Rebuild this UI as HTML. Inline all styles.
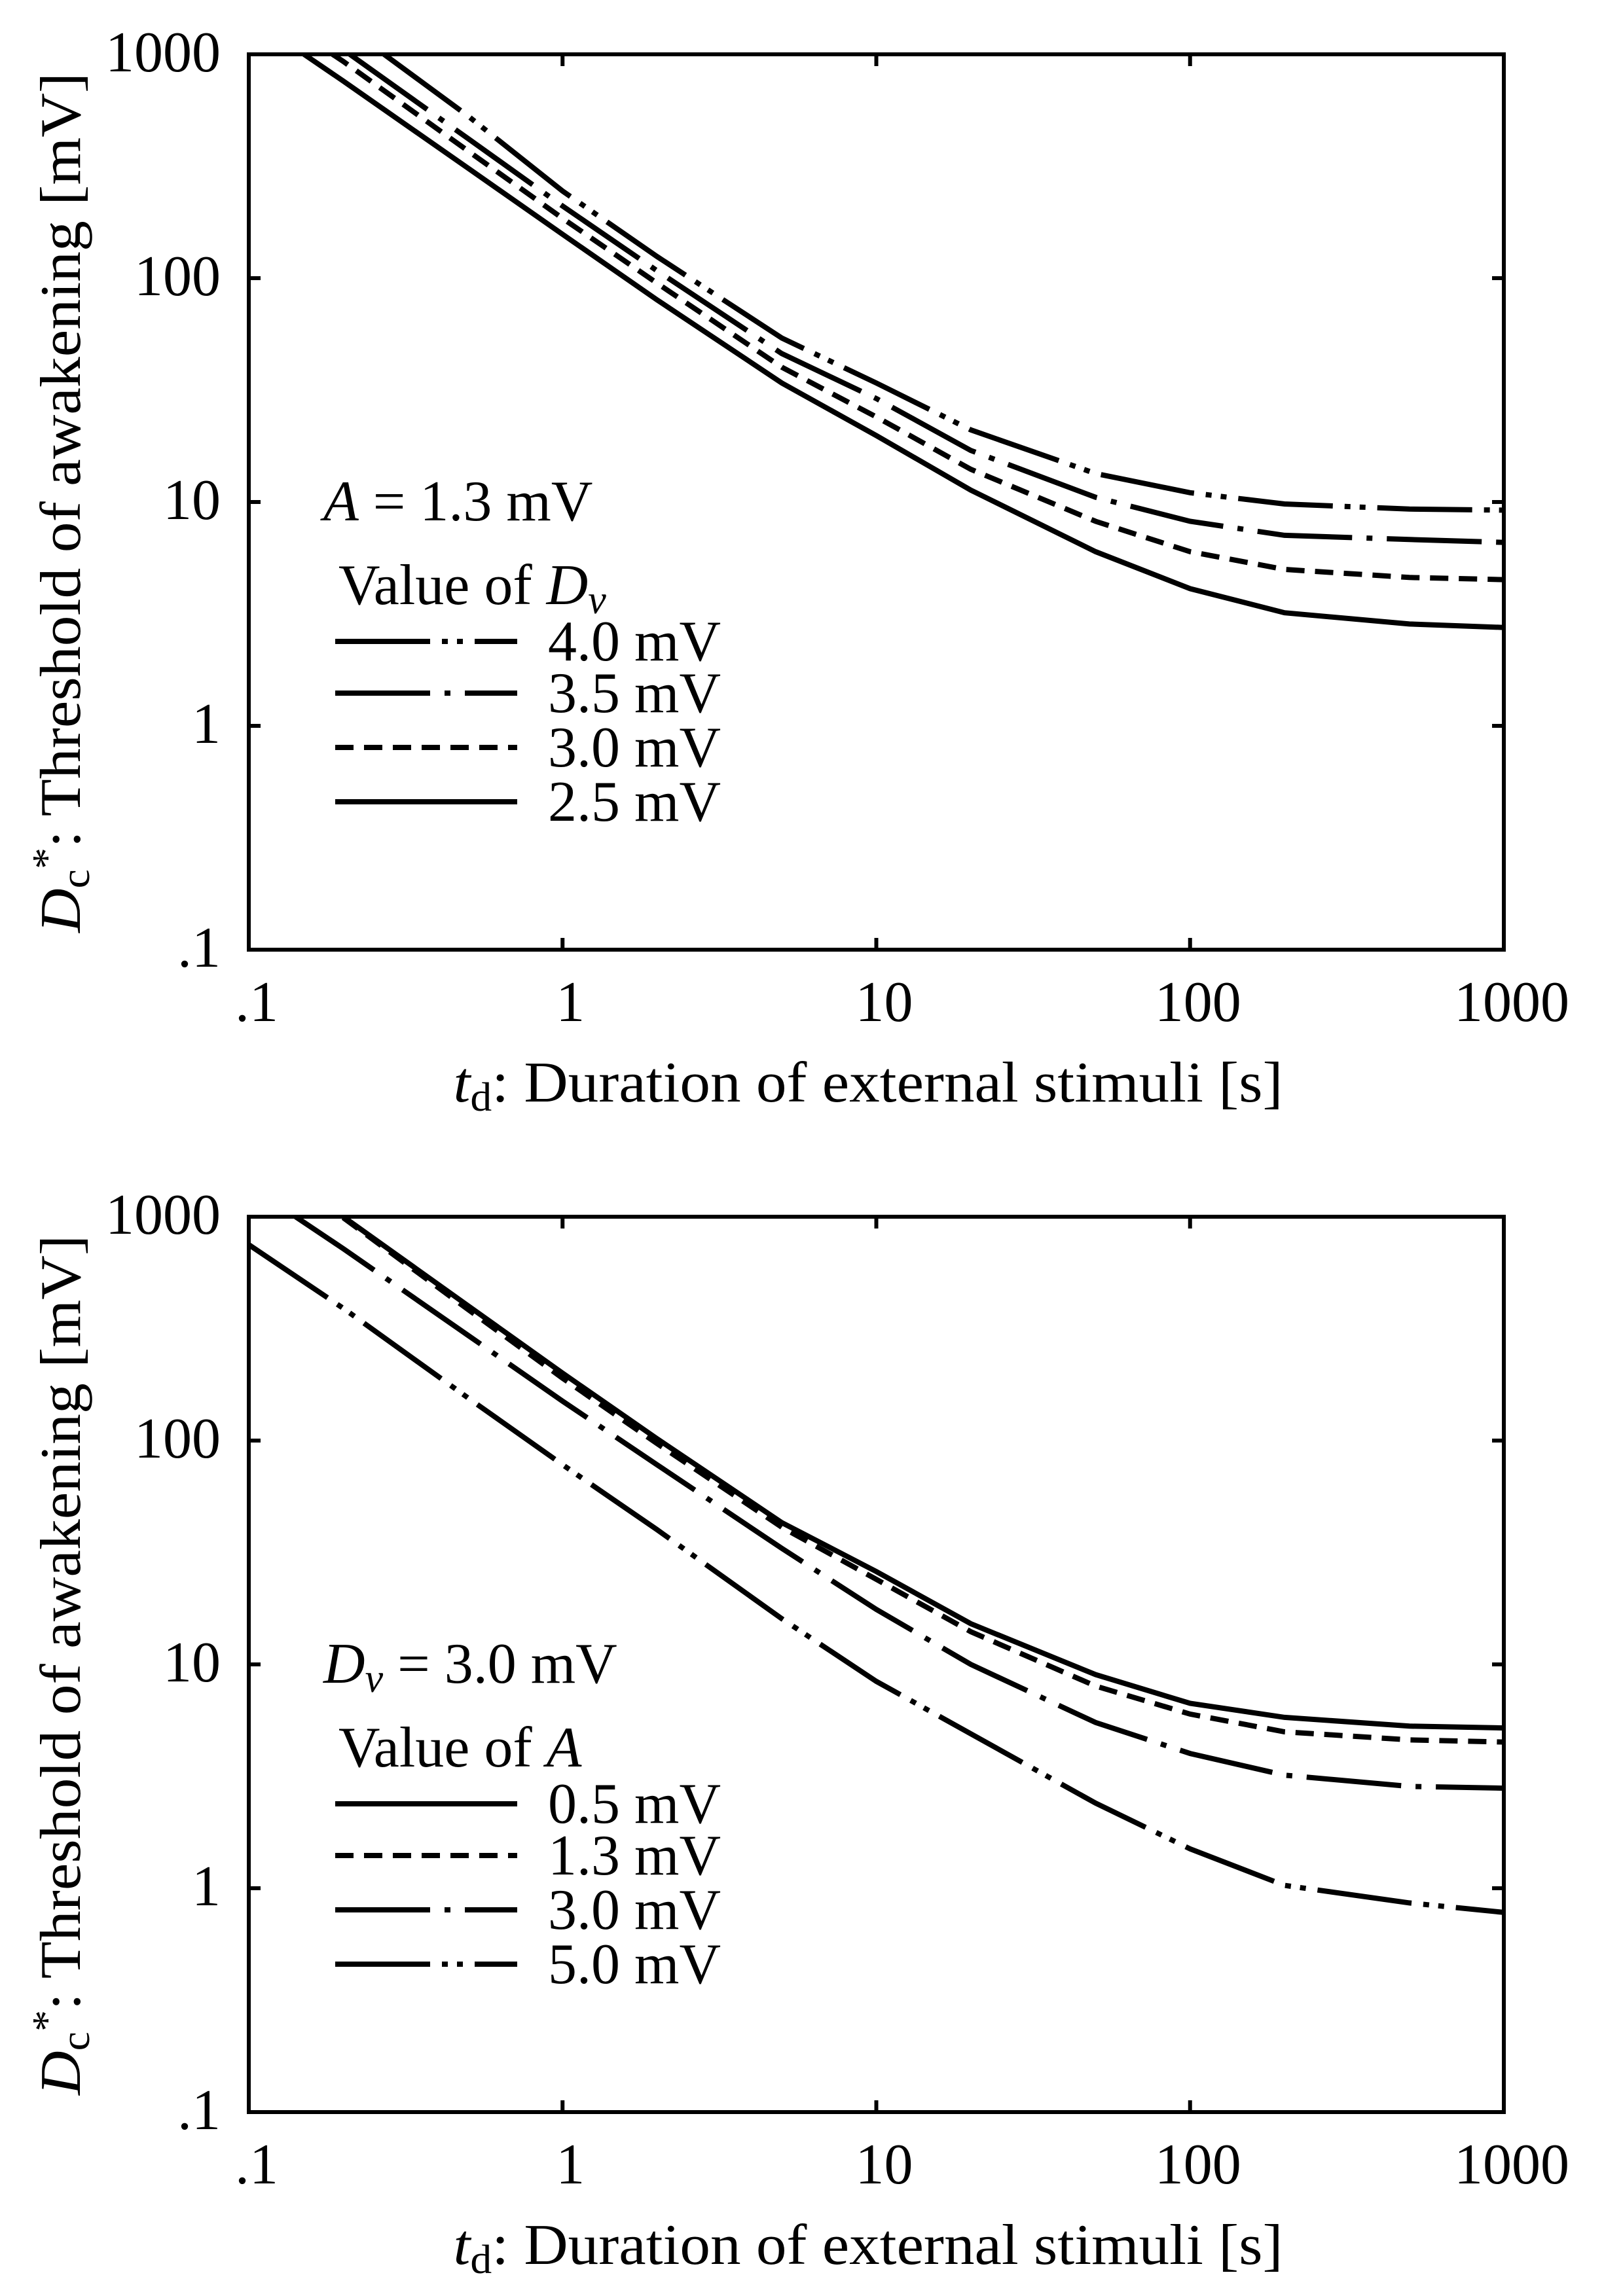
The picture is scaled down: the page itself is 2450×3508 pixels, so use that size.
<!DOCTYPE html>
<html><head><meta charset="utf-8"><style>
html,body{margin:0;padding:0;background:#fff;}
svg{display:block;}
text{font-family:"Liberation Serif",serif;fill:#000;}
</style></head><body>
<svg id="fig" width="2450" height="3508" viewBox="0 0 2450 3508" xmlns="http://www.w3.org/2000/svg">
<rect x="0" y="0" width="2450" height="3508" fill="#fff"/>
</svg>
<script>
// ---- data ----
const xTickLabels = [".1","1","10","100","1000"];
const yTickLabels = [".1","1","10","100","1000"];
// top panel: A = 1.3 mV, varying Dv
const topT40 = [0.27,0.5,1,2,5,10,20,50,100,200,500,1000];
const topV40 = [1000,530,245,125,54,34,21,13.4,11,9.8,9.3,9.2];
const topT35 = [0.21,0.5,1,2,5,10,20,50,100,200,500,1000];
const topV35 = [1000,420,210,108,46,29,17,10.5,8.2,7.1,6.8,6.6];
const topT30 = [0.185,0.2,0.5,1,2,5,10,20,50,100,200,500,1000];
const topV30 = [1000,930,370,185,95,40,24,14,8.2,6.0,5.0,4.6,4.5];
const topT25 = [0.15,0.2,0.5,1,2,5,10,20,50,100,200,500,1000];
const topV25 = [1000,760,310,157,80,34,19.8,11.3,6.0,4.1,3.2,2.85,2.75];
// bottom panel: Dv = 3.0 mV, varying A
const botT05 = [0.2,0.5,1,2,5,10,20,50,100,200,500,1000];
const botV05 = [1000,400,200,102,43,26,15.2,9.0,6.7,5.8,5.3,5.2];
const botT13 = [0.2,0.5,1,2,5,10,20,50,100,200,500,1000];
const botV13 = [990,385,190,97,41,24,14,8.0,6.0,5.0,4.6,4.5];
const botT30 = [0.141,0.2,0.5,1,2,5,10,20,50,100,200,500,1000];
const botV30 = [1000,720,295,150,78,33,17.6,10,5.5,4.0,3.2,2.85,2.8];
const botT50 = [0.1,0.2,0.5,1,2,5,10,20,50,100,200,500,1000];
const botV50 = [750,390,155,78,40,16,8.4,4.9,2.4,1.5,1.03,0.86,0.78];

const NS="http://www.w3.org/2000/svg";
const svg=document.getElementById('fig');
const L=380,R=2297,PH=1368;
function mk(tag,attrs,parent){const e=document.createElementNS(NS,tag);for(const k in attrs)e.setAttribute(k,attrs[k]);(parent||svg).appendChild(e);return e;}
function xs(t){return L+(Math.log10(t)+1)/4*(R-L);}
function ysF(top){return v=>top+(3-Math.log10(v))/4*PH;}

const styles={
 solid:"",
 dash:"28 16",
 dashdot:"145 22 9 22",
 dashdotdot:"145 18 9 14 9 18"
};

function panel(top,idx,series,ann1,legTitle,legItems){
 const ys=ysF(top);
 const g=mk('g',{});
 
 
 const clipId='clip'+idx;
 const cp=mk('clipPath',{id:clipId},g);
 mk('rect',{x:L,y:top,width:R-L,height:PH},cp);
 series.forEach(s=>{
   const pts=s.t.map((t,i)=>xs(t).toFixed(1)+','+ys(s.v[i]).toFixed(1)).join(' ');
   const p=mk('polyline',{points:pts,fill:'none',stroke:'#000','stroke-width':8,'stroke-dasharray':styles[s.style]||'none','clip-path':'url(#'+clipId+')','stroke-linejoin':'miter'},g);
   
   
 });
 const fr=mk('rect',{x:L,y:top,width:R-L,height:PH,fill:'none',stroke:'#000','stroke-width':6},g);
 
 
 for(let k=0;k<5;k++){
   const x=L+k*(R-L)/4, y=top+k*PH/4;
   mk('line',{x1:x,y1:top+PH,x2:x,y2:top+PH-18,stroke:'#000','stroke-width':6},g);
   mk('line',{x1:x,y1:top,x2:x,y2:top+18,stroke:'#000','stroke-width':6},g);
   mk('line',{x1:L,y1:y,x2:L+18,y2:y,stroke:'#000','stroke-width':6},g);
   mk('line',{x1:R,y1:y,x2:R-18,y2:y,stroke:'#000','stroke-width':6},g);
   const xl=mk('text',{x:x+12,y:top+1477,'font-size':88,'text-anchor':'middle'},g);
   xl.textContent=xTickLabels[k];
   
   
   const yl=mk('text',{x:337,y:top+PH-k*PH/4+26,'font-size':88,'text-anchor':'end'},g);
   yl.textContent=yTickLabels[k];
   
   
 }
 const xt=mk('text',{x:1326,y:top+1600,'font-size':88,'text-anchor':'middle',textLength:1267,lengthAdjust:'spacingAndGlyphs'},g);
 xt.innerHTML='<tspan font-style="italic">t</tspan><tspan font-size="62" dy="14">d</tspan><tspan dy="-14">: Duration of external stimuli [s]</tspan>';
 
 
 const yt=mk('text',{x:0,y:0,'font-size':88,'text-anchor':'middle',textLength:1314,lengthAdjust:'spacingAndGlyphs',transform:'translate(122,'+(top+685)+') rotate(-90)'},g);
 yt.innerHTML='<tspan font-style="italic">D</tspan><tspan font-size="62" dy="14">c</tspan><tspan font-size="62" dy="-44">*</tspan><tspan dy="30">: Threshold of awakening [mV]</tspan>';
 
 
 const a=mk('text',{x:494,y:top+712,'font-size':88},g);
 a.innerHTML=ann1;
 
 
 const lt=mk('text',{x:517,y:top+840,'font-size':88},g);
 lt.innerHTML=legTitle;
 
 
 const rows=[897,976,1059,1142];
 legItems.forEach((it,i)=>{
   const y=top+rows[i];
   const ln=mk('line',{x1:512,y1:y,x2:790,y2:y,stroke:'#000','stroke-width':8,'stroke-dasharray':styles[it.style]||'none'},g);
   
   
   const tx=mk('text',{x:837,y:y+29,'font-size':88},g);
   tx.textContent=it.label;
   
   
 });
}

panel(83,'top',[
 {t:topT40,v:topV40,style:'dashdotdot',name:'curve-dv-4-0'},
 {t:topT35,v:topV35,style:'dashdot',name:'curve-dv-3-5'},
 {t:topT30,v:topV30,style:'dash',name:'curve-dv-3-0'},
 {t:topT25,v:topV25,style:'solid',name:'curve-dv-2-5'}
],'<tspan font-style="italic">A</tspan> = 1.3 mV','Value of <tspan font-style="italic">D</tspan><tspan font-style="italic" font-size="62" dy="14">v</tspan>',
[{style:'dashdotdot',label:'4.0 mV'},{style:'dashdot',label:'3.5 mV'},{style:'dash',label:'3.0 mV'},{style:'solid',label:'2.5 mV'}]);

panel(1859,'bottom',[
 {t:botT05,v:botV05,style:'solid',name:'curve-a-0-5'},
 {t:botT13,v:botV13,style:'dash',name:'curve-a-1-3'},
 {t:botT30,v:botV30,style:'dashdot',name:'curve-a-3-0'},
 {t:botT50,v:botV50,style:'dashdotdot',name:'curve-a-5-0'}
],'<tspan font-style="italic">D</tspan><tspan font-style="italic" font-size="62" dy="14">v</tspan><tspan dy="-14"> = 3.0 mV</tspan>','Value of <tspan font-style="italic">A</tspan>',
[{style:'solid',label:'0.5 mV'},{style:'dash',label:'1.3 mV'},{style:'dashdot',label:'3.0 mV'},{style:'dashdotdot',label:'5.0 mV'}]);
</script>
</body></html>
